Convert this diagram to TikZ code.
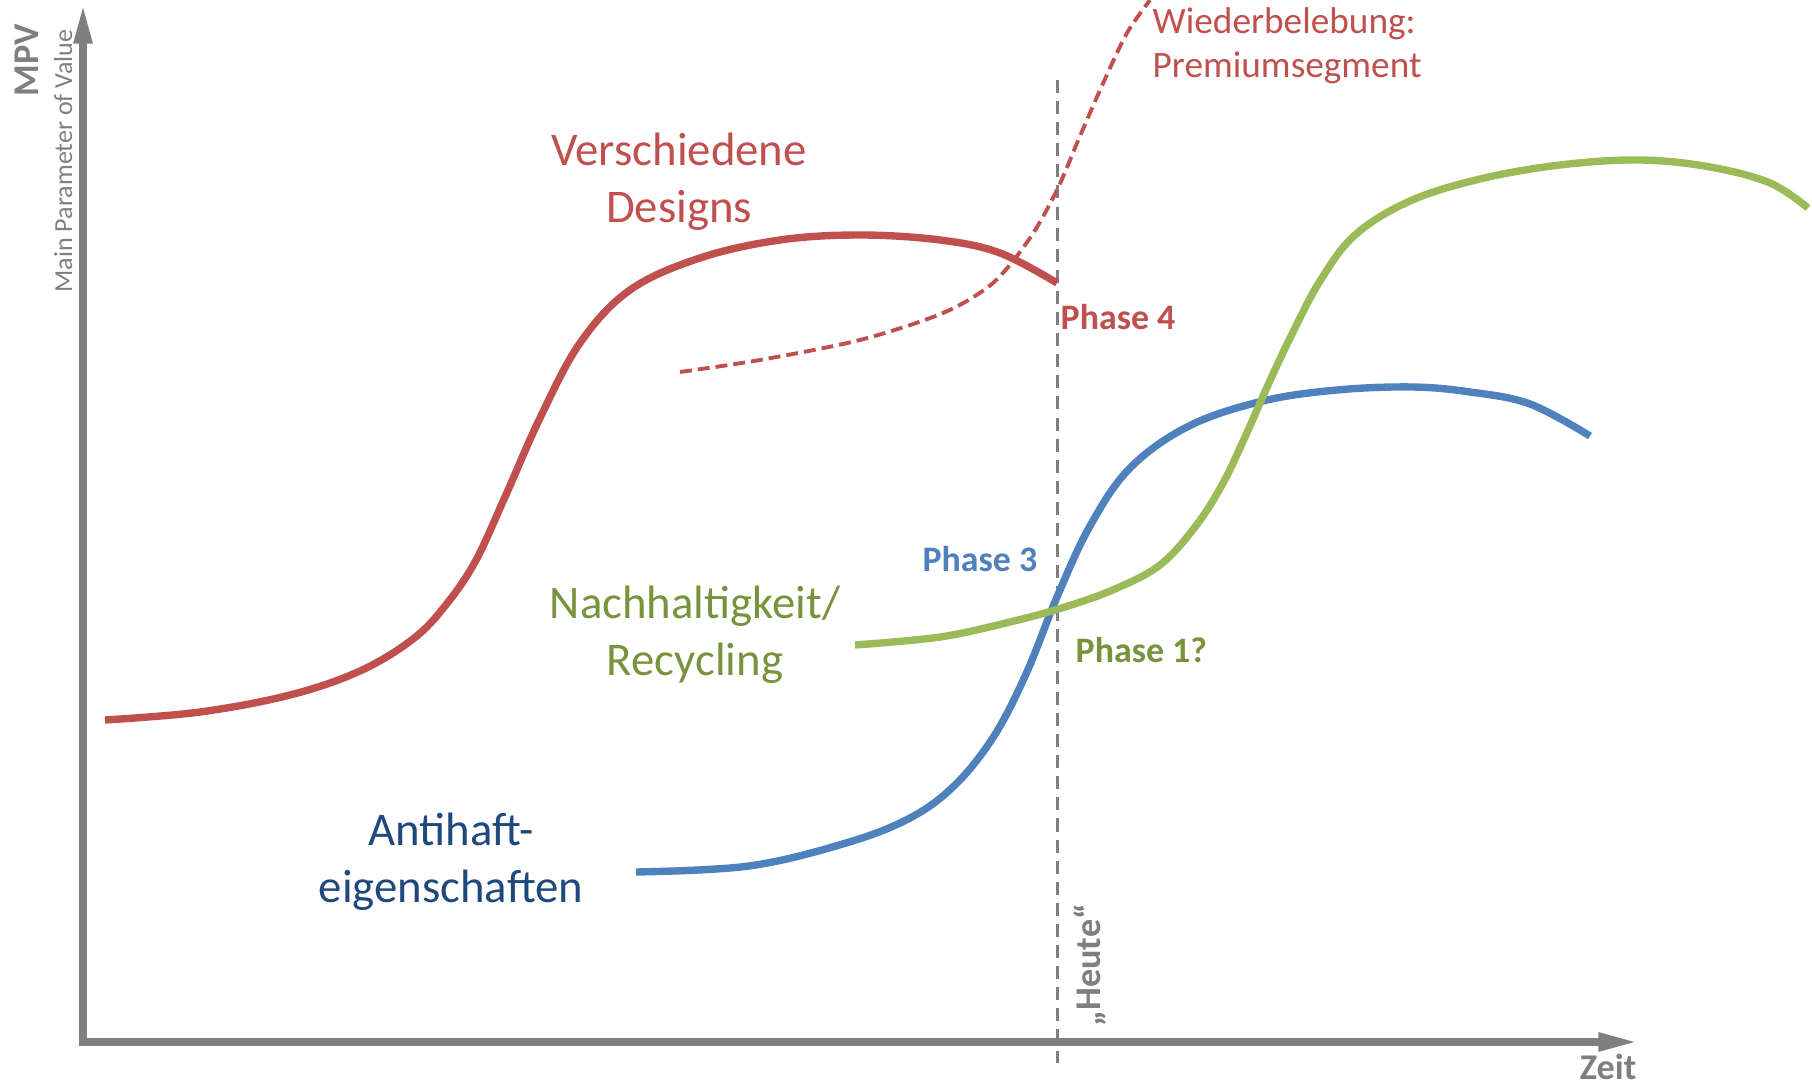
\documentclass[tikz,border=0pt]{standalone}
\usepackage{fontspec}
\setmainfont{Carlito}
\usepackage{tikz}
\usetikzlibrary{arrows.meta}
\definecolor{axisgray}{RGB}{127, 127, 127}
\definecolor{curvered}{RGB}{192, 80, 77}
\definecolor{curveblue}{RGB}{79, 129, 189}
\definecolor{curvegreen}{RGB}{155, 187, 89}
\definecolor{textgreen}{RGB}{119, 147, 60}
\definecolor{textblue}{RGB}{31, 73, 125}

\begin{document}
\begin{tikzpicture}[x=0.01cm,y=-0.01cm,
  axis/.style={axisgray,line width=2pt,{Triangle[length=11pt,width=5pt]}-{Triangle[length=11pt,width=5pt]}},
  curve/.style={line width=2.1pt,smooth,tension=0.6},
  biglabel/.style={font=\fontsize{13.3}{16.2}\selectfont,align=center,inner sep=0pt},
  phaselabel/.style={font=\fontsize{10.2}{12}\selectfont\bfseries,inner sep=0pt},
  axislabel/.style={axisgray,font=\fontsize{10.3}{12}\selectfont\bfseries,inner sep=0pt}]
\useasboundingbox (0,0) rectangle (1812,1086);
% axes
\draw[axis] (83,5) -- (83,1042) -- (1637,1042);
\node[axislabel,anchor=base east] (zeit) at (1637,1080) {Zeit};
\node[axislabel,rotate=90,anchor=base west] (mpv) at (38,97) {MPV};
\node[axisgray,font=\fontsize{7.4}{9}\selectfont,rotate=90,anchor=base west,inner sep=0pt] (mpvlong) at (72,293) {Main Parameter of Value};
% today
\draw[axisgray,line width=0.85pt,dash pattern=on 3.7pt off 2.3pt] (1057,80) -- (1057,1063);
\node[axislabel,rotate=90,anchor=base west] (heute) at (1100,1027) {„Heute“};
% designs
\draw[curve,curvered] plot coordinates {(105,720) (200,712) (290,695) (360,671) (413,639) (445,606) (475,562) (505,497) (540,418) (580,343) (630,290) (700,258) (780,240) (860,235) (940,240) (1000,253) (1057,283)};
\draw[curvered,line width=1.1pt,smooth,dash pattern=on 3.4pt off 1.7pt] plot coordinates {(680,372) (760,360) (860,340) (943,313) (993,283) (1030,238) (1057,190) (1080,136) (1105,79) (1127,33) (1150,0)};
% antihaft
\draw[curve,curveblue] plot coordinates {(636,872) (749,866) (846,843) (910,818) (955,785) (994,736) (1026,674) (1057,597) (1090,526) (1130,468) (1189,426) (1263,401) (1337,390) (1412,387) (1470,392) (1530,404) (1590,436)};
% recycling
\draw[curve,curvegreen] plot coordinates {(855,645) (940,637) (1010,622) (1065,607) (1115,589) (1160,565) (1195,527) (1222,485) (1245,437) (1268,385) (1292,334) (1320,281) (1355,235) (1410,201) (1480,179) (1560,165) (1640,160) (1710,167) (1770,183) (1808,208)};
% labels
\node[biglabel,curvered] (designs) at (679,182) {Verschiedene\\Designs};
\node[curvered,font=\fontsize{10.6}{12.5}\selectfont,align=left,anchor=west,inner sep=0pt] (revival) at (1152,46) {Wiederbelebung:\\Premiumsegment};
\node[biglabel,textgreen] (recycling) at (695,635) {Nachhaltigkeit/\\Recycling};
\node[biglabel,textblue] (antihaft) at (451,862) {Antihaft-\\eigenschaften};
\node[phaselabel,curvered,anchor=base west] (phaseIV) at (1060,330) {Phase 4};
\node[phaselabel,curveblue,anchor=base east] (phaseIII) at (1038,572) {Phase 3};
\node[phaselabel,textgreen,anchor=base west] (phaseI) at (1075,663) {Phase 1?};
\end{tikzpicture}
\end{document}
